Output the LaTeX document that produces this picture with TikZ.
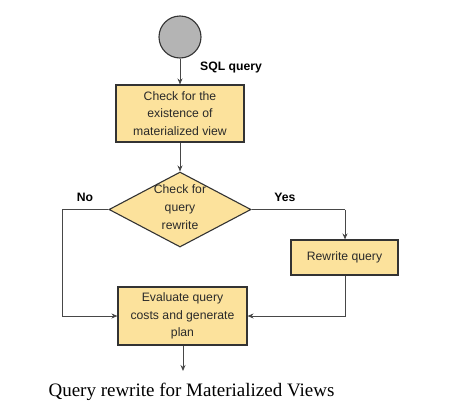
\documentclass[tikz,border=0pt]{standalone}
\usepackage{fontspec}
\setmainfont{Liberation Serif}
\setsansfont{Liberation Sans}
\usetikzlibrary{shapes.geometric,arrows.meta}
\definecolor{boxfill}{HTML}{FCE29C}
\definecolor{edge}{HTML}{333333}
\definecolor{circfill}{HTML}{B4B4B4}
\definecolor{txt}{HTML}{2A2A2A}
\begin{document}
\begin{tikzpicture}[x=1pt,y=-1pt,
  boxtext/.style={font=\sffamily\fontsize{12.2}{17.7}\selectfont, text=txt, align=center},
  procbox/.style={boxtext, draw=edge, line width=1.1pt, fill=boxfill, inner sep=0pt},
  decbox/.style={boxtext, draw=edge, line width=1.1pt, fill=boxfill, diamond, inner sep=0pt},
  flabel/.style={font=\sffamily\bfseries\fontsize{12.2}{14}\selectfont, text=black},
  conn/.style={draw=edge!90, line width=0.9pt, -{Stealth[length=6pt,width=5pt]}},
  plain/.style={draw=edge!90, line width=0.9pt}
]
\useasboundingbox (0,0) rectangle (450,418);
\fill[white] (0,0) rectangle (450,418);
\node[circle, draw=edge, line width=1.1pt, fill=circfill, minimum size=42pt, inner sep=0pt] (start) at (180,37) {};
\node[procbox, minimum width=128pt, minimum height=57pt] (check) at (180,113.5) {Check for the\\existence of\\materialized view};
\node[decbox, minimum width=142pt, minimum height=75pt, aspect=1.9] (dec) at (180,209.5) {};
\node[boxtext] (dectext) at (180,207) {Check for\\query\\rewrite};
\node[procbox, minimum width=107pt, minimum height=35pt] (rw) at (344.5,257.5) {Rewrite query};
\node[procbox, minimum width=129pt, minimum height=58pt] (eval) at (182.5,316) {Evaluate query\\costs and generate\\plan};
\node[flabel] (sql) at (231,68) {SQL query};
\node[flabel] (no) at (85,197) {No};
\node[flabel] (yes) at (285,197) {Yes};
\coordinate (nocorner) at (62,209.5);
\coordinate (yescorner) at (345,209.5);
\coordinate (out) at (183,371);
\node[font=\fontsize{19}{22}\selectfont, anchor=west] (cap) at (45,392) {Query rewrite for Materialized Views};

\draw[conn] (start) -- (check);
\draw[conn] (check) -- (dec.north);
\draw[plain] (dec.west) -- (nocorner);
\draw[conn] (nocorner) |- (eval.west);
\draw[plain] (dec.east) -- (yescorner);
\draw[conn] (yescorner) -- (rw.north -| yescorner);
\draw[conn] (rw.south -| yescorner) |- (eval.east);
\draw[conn] (eval.south -| out) -- (out);
\end{tikzpicture}
\end{document}
